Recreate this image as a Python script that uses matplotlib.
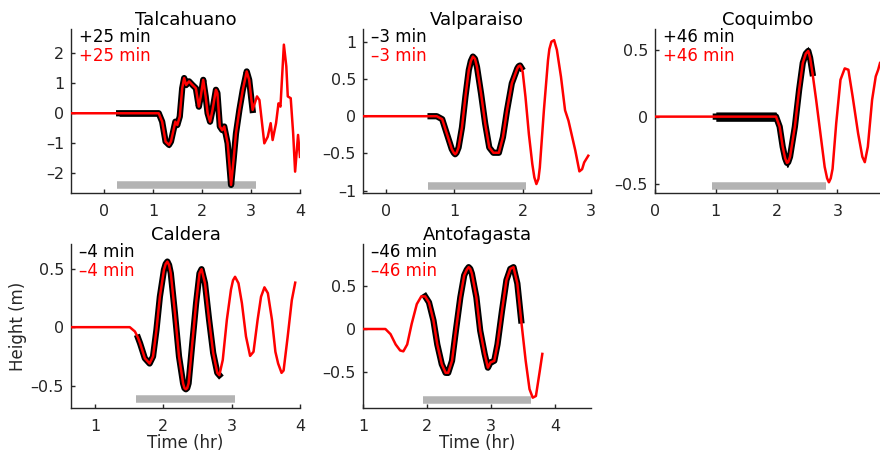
import numpy as np
import matplotlib.pyplot as plt

plt.rcParams['font.family'] = ['DejaVu Sans']

# station names and time shifts
names = ['Talcahuano', 'Valparaiso', 'Coquimbo', 'Caldera', 'Antofagasta']
shifts = ['+25 min', '\u20133 min', '+46 min', '\u20134 min', '\u201346 min']

# modelled waveform (red), time in hr, height in m
talc_t = [-0.685, 0.30, 1.11, 1.18, 1.25, 1.32, 1.36, 1.42, 1.45, 1.49, 1.54, 1.59, 1.63, 1.67,
          1.73, 1.80, 1.87, 1.93, 1.97, 2.02, 2.07, 2.11, 2.16, 2.21, 2.28, 2.31, 2.36, 2.41,
          2.45, 2.52, 2.59, 2.64, 2.69, 2.76, 2.83, 2.91, 2.96, 3.03, 3.12, 3.17, 3.27, 3.34,
          3.40, 3.44, 3.51, 3.56, 3.60, 3.67, 3.72, 3.75, 3.81, 3.86, 3.90, 3.96, 4.0]
talc_h = [0, 0, 0, -0.28, -0.94, -1.05, -0.94, -0.5, -0.28, -0.39, -0.11, 0.83, 1.17, 0.94,
          1.06, 0.94, 0.83, 0.22, 0.56, 1.11, 0.56, 0.0, -0.28, 0.11, 0.78, 0.67, -0.44, -0.56,
          -0.44, -1.0, -2.38, -1.56, -0.67, 0.11, 0.78, 1.39, 1.11, 0.11, 0.56, 0.44, -1.0, -0.78,
          -0.33, -0.89, -0.33, 0.33, 0.22, 2.28, 1.56, 0.56, 0.5, -0.67, -1.94, -0.72, -1.45]

valp_t = [-0.34, 0.65, 0.74, 0.82, 0.89, 0.96, 0.99, 1.01, 1.03, 1.06, 1.11, 1.16, 1.21, 1.24,
          1.27, 1.30, 1.33, 1.39, 1.45, 1.51, 1.57, 1.65, 1.71, 1.77, 1.84, 1.92, 1.94, 1.96,
          1.98, 2.0, 2.04, 2.09, 2.14, 2.17, 2.20, 2.23, 2.25, 2.31, 2.37, 2.39, 2.42, 2.46,
          2.50, 2.56, 2.62, 2.67, 2.72, 2.77, 2.83, 2.87, 2.90, 2.96]
valp_h = [0, 0, 0, -0.04, -0.24, -0.44, -0.49, -0.51, -0.49, -0.42, -0.15, 0.26, 0.62, 0.74,
          0.80, 0.77, 0.66, 0.30, -0.10, -0.42, -0.49, -0.49, -0.28, 0.08, 0.44, 0.64, 0.67,
          0.68, 0.65, 0.59, 0.26, -0.24, -0.64, -0.82, -0.91, -0.84, -0.69, 0.08, 0.75, 0.90,
          1.0, 1.02, 0.89, 0.53, 0.08, -0.06, -0.26, -0.46, -0.74, -0.71, -0.62, -0.53]

coq_t = [0.0, 1.0, 1.99, 2.05, 2.10, 2.14, 2.17, 2.19, 2.22, 2.30, 2.37, 2.43, 2.48, 2.52,
         2.55, 2.59, 2.65, 2.72, 2.79, 2.83, 2.86, 2.89, 2.92, 2.98, 3.05, 3.12, 3.18, 3.25,
         3.34, 3.41, 3.45, 3.50, 3.57, 3.63, 3.67, 3.70]
coq_h = [0, 0, 0, -0.075, -0.225, -0.31, -0.345, -0.34, -0.30, -0.075, 0.2, 0.4, 0.47, 0.49,
         0.44, 0.325, 0.125, -0.125, -0.375, -0.46, -0.49, -0.46, -0.39, -0.05, 0.275, 0.36,
         0.35, 0.15, -0.125, -0.30, -0.34, -0.225, 0.125, 0.30, 0.35, 0.40]

cald_t = [0.65, 1.51, 1.585, 1.63, 1.66, 1.73, 1.80, 1.85, 1.90, 1.95, 2.01, 2.035, 2.06, 2.085,
          2.11, 2.17, 2.23, 2.29, 2.31, 2.33, 2.35, 2.37, 2.42, 2.48, 2.53, 2.56, 2.61, 2.67,
          2.73, 2.79, 2.82, 2.87, 2.93, 2.99, 3.02, 3.05, 3.10, 3.15, 3.21, 3.27, 3.32, 3.38,
          3.43, 3.48, 3.53, 3.59, 3.64, 3.68, 3.73, 3.76, 3.82, 3.88, 3.93]
cald_h = [0, 0, -0.037, -0.09, -0.137, -0.265, -0.31, -0.25, -0.023, 0.26, 0.49, 0.54, 0.56,
          0.53, 0.46, 0.12, -0.25, -0.48, -0.52, -0.53, -0.52, -0.48, -0.165, 0.205, 0.46,
          0.495, 0.375, 0.063, -0.22, -0.39, -0.41, -0.28, 0.063, 0.32, 0.40, 0.43, 0.375,
          0.205, -0.08, -0.245, -0.21, 0.063, 0.26, 0.34, 0.29, 0.063, -0.21, -0.31, -0.39,
          -0.37, -0.08, 0.23, 0.38]

anto_t = [1.0, 1.35, 1.43, 1.51, 1.58, 1.63, 1.69, 1.76, 1.84, 1.91, 1.97, 2.03, 2.10, 2.16,
          2.23, 2.29, 2.33, 2.39, 2.45, 2.52, 2.58, 2.62, 2.65, 2.675, 2.70, 2.77, 2.83, 2.90,
          2.95, 2.99, 3.05, 3.10, 3.17, 3.24, 3.30, 3.35, 3.41, 3.47, 3.54, 3.60, 3.65, 3.70,
          3.76, 3.80]
anto_h = [0, 0, -0.06, -0.18, -0.25, -0.26, -0.18, 0.06, 0.29, 0.38, 0.38, 0.31, 0.10, -0.18,
          -0.41, -0.51, -0.51, -0.37, -0.02, 0.37, 0.625, 0.69, 0.72, 0.70, 0.645, 0.37, -0.02,
          -0.29, -0.45, -0.39, -0.37, -0.18, 0.21, 0.57, 0.70, 0.72, 0.53, 0.10, -0.37, -0.70,
          -0.80, -0.78, -0.49, -0.29]

times = [talc_t, valp_t, coq_t, cald_t, anto_t]
heights = [talc_h, valp_h, coq_h, cald_h, anto_h]

# observed record window (black) and its noise half-width
obs_start = [0.30, 0.65, 1.0, 1.63, 1.95]
obs_end = [3.04, 1.99, 2.60, 2.84, 3.47]
noise = [0.1, 0.02, 0.035, 0.02, 0.03]

# grey bar: inversion window
bar_start = [0.255, 0.61, 0.94, 1.605, 1.94]
bar_end = [3.09, 2.05, 2.82, 3.05, 3.63]
bar_y = [-2.40, -0.94, -0.515, -0.615, -0.83]

xlims = [(-0.685, 4.0), (-0.34, 3.0), (0.0, 3.7), (0.65, 4.0), (1.0, 4.56)]
ylims = [(-2.65, 2.8), (-1.03, 1.17), (-0.57, 0.654), (-0.69, 0.71), (-0.92, 0.99)]
xticks = [[0, 1, 2, 3, 4], [0, 1, 2, 3], [0, 1, 2, 3], [1, 2, 3, 4], [1, 2, 3, 4]]
yticks = [[-2, -1, 0, 1, 2], [-1, -0.5, 0, 0.5, 1], [-0.5, 0, 0.5], [-0.5, 0, 0.5], [-0.5, 0, 0.5]]
ytick_labels = [['\u20132', '\u20131', '0', '1', '2'],
                ['\u20131', '\u20130.5', '0', '0.5', '1'],
                ['\u20130.5', '0', '0.5'], ['\u20130.5', '0', '0.5'], ['\u20130.5', '0', '0.5']]

W, H = 880, 457
boxes = [(71, 29, 229), (363, 29, 228), (655, 29, 225), (71, 244, 229), (363, 244, 228)]
ax_h = 164
axc = (0.15, 0.15, 0.15)

fig = plt.figure(figsize=(8.8, 4.57), dpi=100)
for i in range(5):
    l, top, w = boxes[i]
    ax = fig.add_axes([l / W, (H - top - ax_h) / H, w / W, ax_h / H])
    t = np.array(times[i])
    h = np.array(heights[i])

    ax.plot([bar_start[i], bar_end[i]], [bar_y[i], bar_y[i]], color=(0.7, 0.7, 0.7),
            lw=5.4, solid_capstyle='butt', zorder=1)

    m = (t >= obs_start[i]) & (t <= obs_end[i])
    ax.fill_between(t[m], h[m] - noise[i], h[m] + noise[i], color='k', lw=0, zorder=2)
    ax.plot(t[m], h[m], color='k', lw=4.5, zorder=2, solid_joinstyle='round')
    ax.plot(t, h, color='red', lw=1.8, zorder=3, solid_joinstyle='round')

    ax.set_xlim(*xlims[i])
    ax.set_ylim(*ylims[i])
    ax.set_xticks(xticks[i])
    ax.set_yticks(yticks[i])
    ax.set_yticklabels(ytick_labels[i])
    for s in ['top', 'right']:
        ax.spines[s].set_visible(False)
    for s in ['left', 'bottom']:
        ax.spines[s].set_color(axc)
        ax.spines[s].set_linewidth(1.0)
    ax.tick_params(direction='in', length=3, width=1.0, colors=axc, labelsize=11.5)
    ax.tick_params(axis='x', pad=8)
    ax.tick_params(axis='y', pad=5)
    for lab in ax.get_xticklabels() + ax.get_yticklabels():
        lab.set_color(axc)
    ax.set_title(names[i], fontsize=13, pad=3, color='k')
    ax.text(0.035, 0.95, shifts[i], transform=ax.transAxes, color='k', fontsize=12,
            va='center', ha='left')
    ax.text(0.035, 0.835, shifts[i], transform=ax.transAxes, color='red', fontsize=12,
            va='center', ha='left')
    ax.patch.set_visible(False)
    if i == 3:
        ax.set_ylabel('Height (m)', fontsize=12, color=axc, labelpad=3)
    if i >= 3:
        ax.set_xlabel('Time (hr)', fontsize=12, color=axc, labelpad=0)

fig.savefig('out.png', dpi=100)
